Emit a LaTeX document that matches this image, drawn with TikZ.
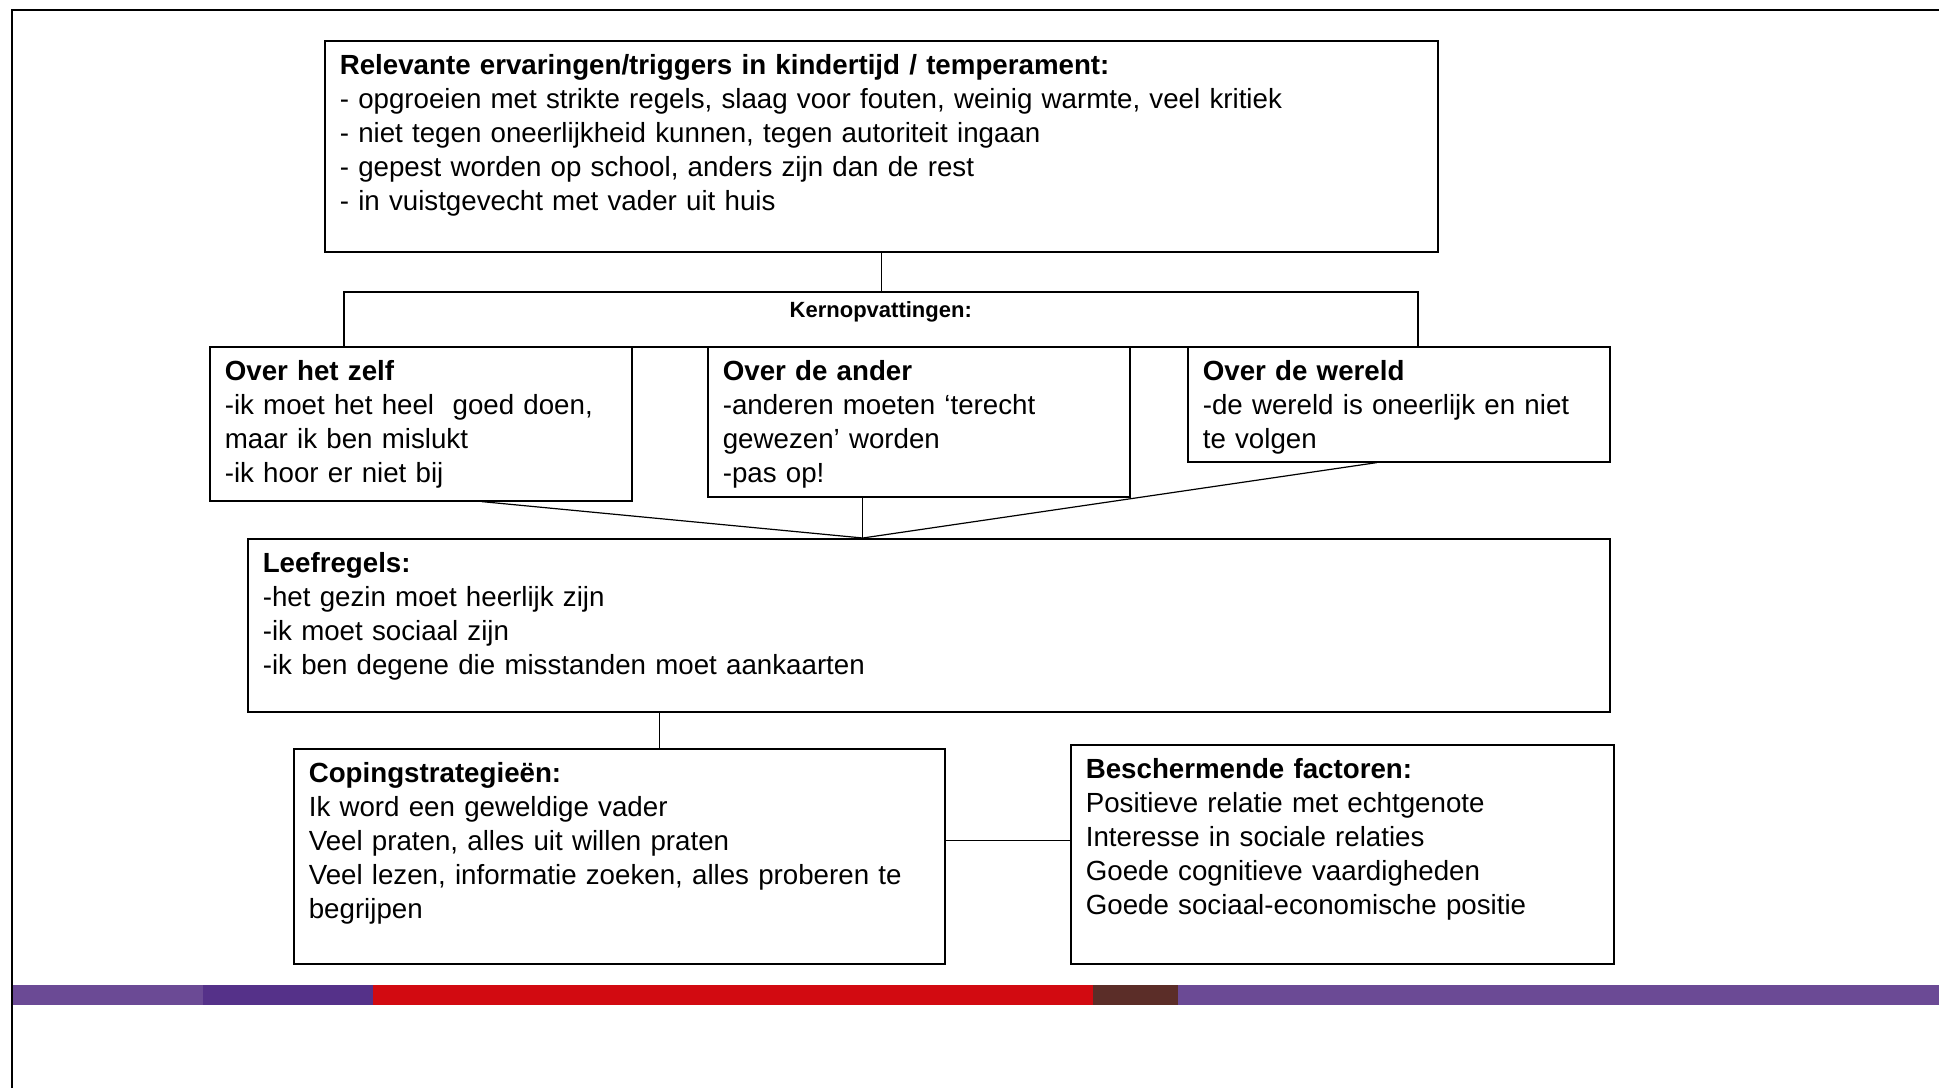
\documentclass[tikz,border=0pt]{standalone}
\usepackage{fontspec}
\setmainfont{Liberation Sans}

\definecolor{paars}{HTML}{6B4A95}
\definecolor{donkerpaars}{HTML}{553189}
\definecolor{rood}{HTML}{D20A11}
\definecolor{bruin}{HTML}{5B2D28}

\tikzset{
  blok/.style={draw, line width=0.8pt, anchor=north west, inner xsep=7.5pt, inner ysep=6pt,
    align=left, text height=11pt, font=\fontsize{13.85}{16.95}\selectfont},
  lijn/.style={line width=0.6pt}
}

\begin{document}
\begin{tikzpicture}[x=0.5pt, y=-0.5pt]
\useasboundingbox (0,0) rectangle (1939,1088);

\foreach \van/\tot/\kleur in {12/203/paars, 203/373/donkerpaars, 373/1093/rood, 1093/1178/bruin, 1178/1939/paars}
  \fill[\kleur] (\van,985) rectangle (\tot,1005);
\draw[line width=1pt] (12,1088) -- (12,10) -- (1939,10);

\node[blok, text width=541.5pt, text depth=82.5pt] (triggers) at (324,40)
  {\textbf{Relevante ervaringen/triggers in kindertijd / temperament:}\\
   - opgroeien met strikte regels, slaag voor fouten, weinig warmte, veel kritiek\\
   - niet tegen oneerlijkheid kunnen, tegen autoriteit ingaan\\
   - gepest worden op school, anders zijn dan de rest\\
   - in vuistgevecht met vader uit huis};
\node[draw, line width=0.8pt, anchor=north west, inner sep=0pt, text width=537pt, align=center,
  text height=13pt, text depth=14.5pt, font=\bfseries\fontsize{11}{13}\selectfont] (kern) at (343,291)
  {Kernopvattingen:};

\node[blok, text width=196pt, text depth=54pt] (zelf) at (209,346)
  {\textbf{Over het zelf}\\
   -ik moet het heel~ goed doen,\\
   maar ik ben mislukt\\
   -ik hoor er niet bij};
\node[blok, text width=196pt, text depth=52pt] (ander) at (707,346)
  {\textbf{Over de ander}\\
   -anderen moeten ‘terecht\\
   gewezen’ worden\\
   -pas op!};
\node[blok, text width=196pt, text depth=34.5pt] (wereld) at (1187,346)
  {\textbf{Over de wereld}\\
   -de wereld is oneerlijk en niet\\
   te volgen};

\node[blok, text width=666pt, text depth=63.5pt] (leef) at (247,538)
  {\textbf{Leefregels:}\\
   -het gezin moet heerlijk zijn\\
   -ik moet sociaal zijn\\
   -ik ben degene die misstanden moet aankaarten};

\node[blok, text width=310.5pt, text depth=84.5pt] (coping) at (293,748)
  {\textbf{Copingstrategieën:}\\
   Ik word een geweldige vader\\
   Veel praten, alles uit willen praten\\
   Veel lezen, informatie zoeken, alles proberen te\\
   begrijpen};
\node[blok, text width=256.5pt, text depth=86.5pt] (bescherm) at (1070,744)
  {\textbf{Beschermende factoren:}\\
   Positieve relatie met echtgenote\\
   Interesse in sociale relaties\\
   Goede cognitieve vaardigheden\\
   Goede sociaal-economische positie};

\coordinate (samen) at ([xshift=-33pt]leef.north);
\draw[lijn] (triggers.south) -- (triggers.south |- kern.north);
\draw[lijn] ([xshift=30.5pt]zelf.south) -- (samen);
\draw[lijn] ([xshift=-28pt]ander.south) -- (samen);
\draw[lijn] ([xshift=-11pt]wereld.south) -- (samen);
\draw[lijn] ([xshift=20pt]coping.north) -- ([xshift=20pt]coping.north |- leef.south);
\draw[lijn] ([yshift=7.75pt]coping.east) -- ([yshift=7.75pt]coping.east -| bescherm.west);
\end{tikzpicture}
\end{document}
